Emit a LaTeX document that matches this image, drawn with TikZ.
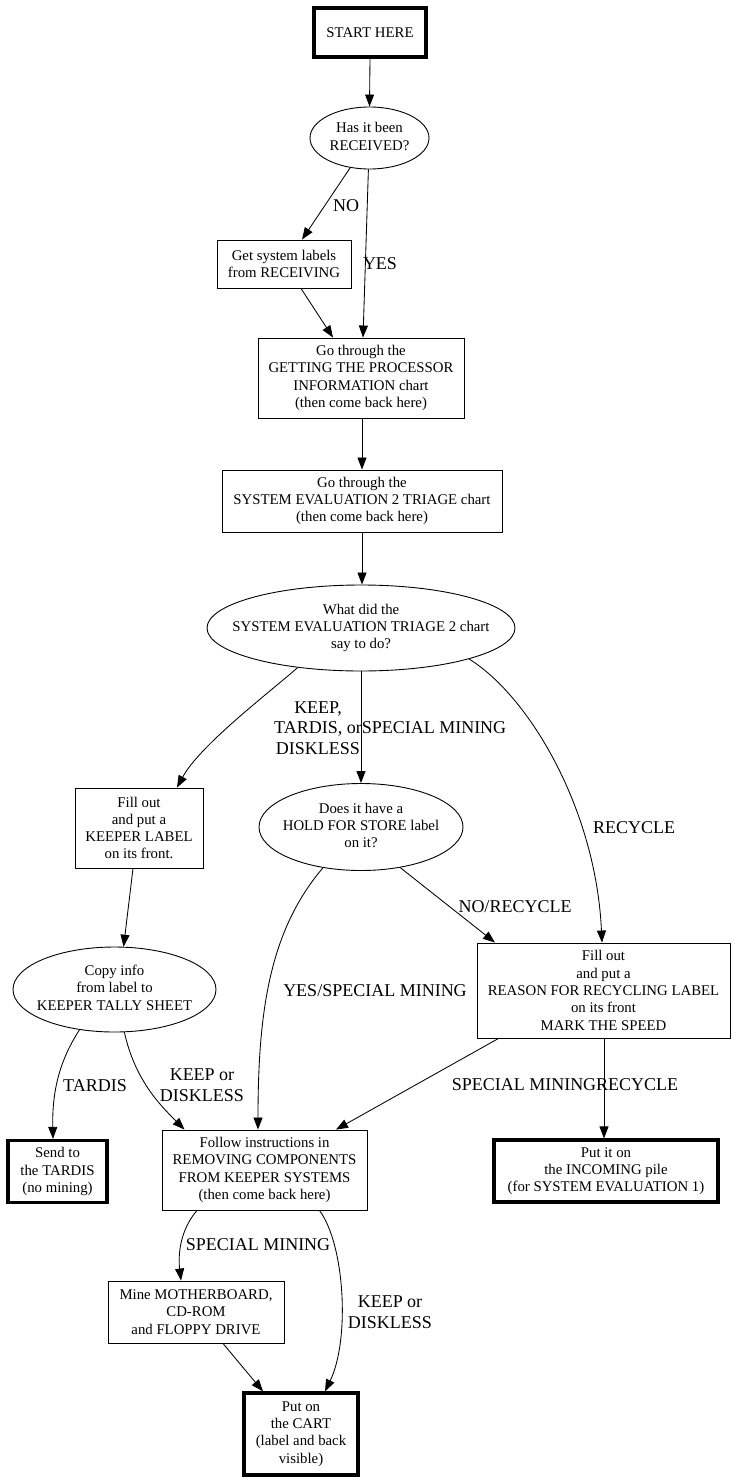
\documentclass[tikz,border=0pt]{standalone}
\usepackage{fontspec}
\setmainfont{Liberation Serif}
\usetikzlibrary{shapes.geometric,arrows.meta}
\newcommand{\nodefont}{\fontsize{14.8}{17.3}\selectfont}
\newcommand{\labfont}{\fontsize{18}{20.5}\selectfont}
\newcommand{\ztext}[1]{\makebox[0pt]{\begin{tabular}{@{}c@{}}#1\end{tabular}}}
\begin{document}
\begin{tikzpicture}[x=1pt,y=-1pt,
  box/.style={draw,rectangle,inner sep=0pt,align=center,font=\nodefont,line width=0.9pt},
  tbox/.style={box,line width=3.2pt},
  ell/.style={draw,ellipse,inner sep=0pt,font=\nodefont,line width=0.9pt},
  elabel/.style={inner sep=0pt,align=center,font=\labfont},
  edge/.style={line width=0.85pt,-{Triangle[length=12pt,width=9pt]}}]
\useasboundingbox (0,0) rectangle (738,1482);
% nodes
\node[tbox,minimum width=112pt,minimum height=49pt] (start) at (370,32.5) {START HERE};
\node[ell,minimum width=119pt,minimum height=62pt] (recv) at (369.5,138) {\ztext{Has it been\\RECEIVED?}};
\node[box,minimum width=134pt,minimum height=48pt] (getlbl) at (284,264) {Get system labels\\from RECEIVING};
\node[box,minimum width=206pt,minimum height=80pt] (getproc) at (361,378) {Go through the\\GETTING THE PROCESSOR\\INFORMATION chart\\(then come back here)};
\node[box,minimum width=280pt,minimum height=62pt] (syseval) at (362,501) {Go through the\\SYSTEM EVALUATION 2 TRIAGE chart\\(then come back here)};
\node[ell,minimum width=308pt,minimum height=86pt] (what) at (361,628) {\ztext{What did the\\SYSTEM EVALUATION TRIAGE 2 chart\\say to do?}};
\node[box,minimum width=128pt,minimum height=80pt] (keeper) at (139,828) {Fill out\\and put a\\KEEPER LABEL\\on its front.};
\node[ell,minimum width=204pt,minimum height=87pt] (hold) at (361,827) {\ztext{Does it have a\\HOLD FOR STORE label\\on it?}};
\node[ell,minimum width=203pt,minimum height=85pt] (copy) at (114.5,989.5) {\ztext{Copy info\\from label to\\KEEPER TALLY SHEET}};
\node[box,minimum width=253pt,minimum height=95pt] (reason) at (603.5,990.5) {Fill out\\and put a\\REASON FOR RECYCLING LABEL\\on its front\\MARK THE SPEED};
\node[tbox,minimum width=99pt,minimum height=62pt] (tardis) at (57.5,1171.5) {Send to\\the TARDIS\\(no mining)};
\node[box,minimum width=205pt,minimum height=80pt] (follow) at (264.5,1170) {Follow instructions in\\REMOVING COMPONENTS\\FROM KEEPER SYSTEMS\\(then come back here)};
\node[tbox,minimum width=224pt,minimum height=62pt] (incoming) at (606,1171) {Put it on\\the INCOMING pile\\(for SYSTEM EVALUATION 1)};
\node[box,minimum width=176pt,minimum height=62pt] (mine) at (196,1312) {Mine MOTHERBOARD,\\CD-ROM\\and FLOPPY DRIVE};
\node[tbox,minimum width=114pt,minimum height=82pt] (cart) at (301,1434) {Put on\\the CART\\(label and back\\visible)};
% edges
\draw[edge] (start.south) -- (recv.north);
\draw[edge] (recv.237) -- ([xshift=18pt]getlbl.north);
\draw[edge] (recv.268) -- ([xshift=2pt]getproc.north);
\draw[edge] ([xshift=17pt]getlbl.south) -- ([xshift=-28pt]getproc.north);
\draw[edge] ([xshift=1pt]getproc.south) -- (syseval.north);
\draw[edge] (syseval.south) -- ([xshift=1pt]what.north);
\draw[edge] (what.212) .. controls (270,692) and (200,745) .. ([xshift=38pt]keeper.north);
\draw[edge] (what.south) -- (hold.north);
\draw[edge] (what.344.2) .. controls (530,697) and (596,810) .. ([xshift=-1.5pt]reason.north);
\draw[edge] ([xshift=-6pt]keeper.south) -- (copy.78.7);
\draw[edge] (hold.314.3) -- ([xshift=-108.5pt]reason.north);
\draw[edge] (hold.227.1) .. controls (270,930) and (258,1010) .. ([xshift=-6.5pt]follow.north);
\draw[edge] (copy.229.3) .. controls (60,1060) and (52,1090) .. ([xshift=-4.5pt]tardis.north);
\draw[edge] (copy.283.3) .. controls (135,1080) and (160,1105) .. ([xshift=-80pt]follow.north);
\draw[edge] ([xshift=-105pt]reason.south) -- ([xshift=71.5pt]follow.north);
\draw[edge] ([xshift=0.5pt]reason.south) -- ([xshift=-2pt]incoming.north);
\draw[edge] ([xshift=-67.5pt]follow.south) .. controls (180,1230) and (178,1255) .. ([xshift=-15pt]mine.north);
\draw[edge] ([xshift=55pt]follow.south) .. controls (345,1245) and (350,1340) .. ([xshift=24pt]cart.north);
\draw[edge] ([xshift=27pt]mine.south) -- ([xshift=-38pt]cart.north);
% edge labels
\node[elabel] (lno) at (346,206) {NO};
\node[elabel] (lyes) at (380,264) {YES};
\node[elabel] (lkeep) at (318,728) {KEEP,\\TARDIS, or\\DISKLESS};
\node[elabel] (lspec1) at (434,728) {SPECIAL MINING};
\node[elabel] (lrec1) at (634,828) {RECYCLE};
\node[elabel] (lnorec) at (515,907) {NO/RECYCLE};
\node[elabel] (lyesspec) at (375,991) {YES/SPECIAL MINING};
\node[elabel] (ltardis) at (95,1086) {TARDIS};
\node[elabel] (lkeep2) at (202,1085) {KEEP or\\DISKLESS};
\node[elabel] (lspec2) at (524,1085) {SPECIAL MINING};
\node[elabel] (lrec2) at (637,1085) {RECYCLE};
\node[elabel] (lspec3) at (258,1245) {SPECIAL MINING};
\node[elabel] (lkeep3) at (390,1312) {KEEP or\\DISKLESS};
\end{tikzpicture}
\end{document}
